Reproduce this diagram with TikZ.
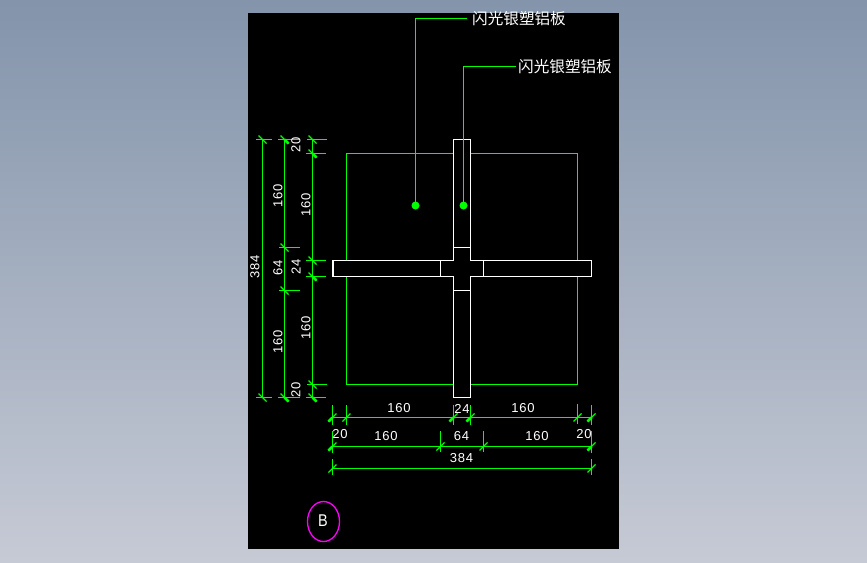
\documentclass[tikz,border=0pt]{standalone}
\usepackage{fontspec}
\setmainfont[LetterSpace=6]{Liberation Sans}
\newfontfamily\cjkfont{Noto Sans CJK SC}
\newfontfamily\detailfont[LetterSpace=10]{Liberation Sans}
\definecolor{cadgreen}{RGB}{0,255,0}
\definecolor{cadmag}{RGB}{255,0,255}
\definecolor{bgtop}{RGB}{131,148,171}
\definecolor{bgbot}{RGB}{198,202,213}
\tikzset{
  dimline/.style={cadgreen,line width=1.25pt},
  outline/.style={white,line width=1.35pt},
  dimtext/.style={white,inner sep=0pt,font=\fontsize{13}{13}\selectfont},
  dimtextv/.style={dimtext,rotate=90},
  cjktext/.style={white,inner sep=0pt,anchor=west,font=\fontsize{15.6}{16}\selectfont\cjkfont},
}
\newcommand{\vtick}[4]{\draw[dimline] (#3,#2) -- (#4,#2);
  \draw[dimline] (#1-4,#2-4) -- (#1+4,#2+4);}
\newcommand{\vheavy}[2]{\draw[cadgreen,line width=2.6pt] (#1,#2) -- (#1+4,#2+4);}
\newcommand{\htick}[4]{\draw[dimline] (#1,#3) -- (#1,#4);
  \draw[dimline] (#1-4,#2+4) -- (#1+4,#2-4);}
\newcommand{\hheavy}[2]{\draw[cadgreen,line width=2.6pt] (#1-4,#2+4) -- (#1,#2);}
\begin{document}
\begin{tikzpicture}[x=1pt,y=-1pt]
\useasboundingbox (0,0) rectangle (867,562);
\shade[top color=bgtop,bottom color=bgbot] (0,0) rectangle (867,562);
\fill[black] (248,13) rectangle (619,549);
% panel
\draw[dimline] (346.5,153.5) rectangle (577.5,384.5);
\fill[black] (333,260.5) rectangle (591.5,276.5);
\fill[black] (453.5,139.5) rectangle (470.5,397.5);
\draw[outline] (453.5,139.5) -- (470.5,139.5) -- (470.5,260.5) -- (591.5,260.5) -- (591.5,276.5)
  -- (470.5,276.5) -- (470.5,397.5) -- (453.5,397.5) -- (453.5,276.5) -- (333,276.5)
  -- (333,260.5) -- (453.5,260.5) -- cycle;
\draw[outline] (453.5,247.5) -- (470.5,247.5);
\draw[outline] (453.5,290.5) -- (470.5,290.5);
\draw[outline] (440.5,260.5) -- (440.5,276.5);
\draw[outline] (483.5,260.5) -- (483.5,276.5);
% vertical dims
\draw[dimline] (262.5,139.5) -- (262.5,397.5);
\vtick{262.5}{139.5}{256}{272}
\vtick{262.5}{397.5}{256}{272}
\draw[dimline] (284.5,139.5) -- (284.5,397.5);
\vtick{284.5}{139.5}{278}{300}\vheavy{284.5}{139.5}
\vtick{284.5}{247.5}{279}{300}
\vtick{284.5}{290.5}{279}{300}
\vtick{284.5}{397.5}{278}{300}\vheavy{284.5}{397.5}
\draw[dimline] (312.5,139.5) -- (312.5,397.5);
\vtick{312.5}{139.5}{307}{327}
\vtick{312.5}{153.5}{306}{326}\vheavy{312.5}{153.5}
\vtick{312.5}{260.5}{306}{326}
\vtick{312.5}{276.5}{306}{326}\vheavy{312.5}{276.5}
\vtick{312.5}{384.5}{307}{327}
\vtick{312.5}{397.5}{306}{326}\vheavy{312.5}{397.5}
% horizontal dims
\draw[dimline] (332.5,417.5) -- (591.5,417.5);
\htick{332.5}{417.5}{405}{425}\hheavy{332.5}{417.5}
\htick{346.5}{417.5}{405}{425}
\htick{453.5}{417.5}{405}{425}\hheavy{453.5}{417.5}
\htick{470.5}{417.5}{405}{425}\hheavy{470.5}{417.5}
\htick{577.5}{417.5}{404}{424}
\htick{591.5}{417.5}{405}{425}\hheavy{591.5}{417.5}
\draw[dimline] (332.5,446.5) -- (591.5,446.5);
\htick{332.5}{446.5}{431}{453}\hheavy{332.5}{446.5}
\htick{440.5}{446.5}{431}{452}
\htick{483.5}{446.5}{431}{452}
\htick{591.5}{446.5}{431}{453}\hheavy{591.5}{446.5}
\draw[dimline] (332.5,468.5) -- (591.5,468.5);
\htick{332.5}{468.5}{459}{475}
\htick{591.5}{468.5}{459}{475}
% dim labels
\node[dimtextv] (v384) at (255,267) {384};
\node[dimtextv] (v160a) at (278,196) {160};
\node[dimtextv] (v64) at (278,268) {64};
\node[dimtextv] (v160b) at (278,342) {160};
\node[dimtextv] (v20a) at (296,145) {20};
\node[dimtextv] (v24) at (296,267) {24};
\node[dimtextv] (v20b) at (296,390) {20};
\node[dimtextv] (v160c) at (306,205) {160};
\node[dimtextv] (v160d) at (306,328) {160};
\node[dimtext] (h160a) at (399,408) {160};
\node[dimtext] (h24) at (462,408.5) {24};
\node[dimtext] (h160b) at (523,408.5) {160};
\node[dimtext] (h20a) at (340,434) {20};
\node[dimtext] (h160c) at (386,436.5) {160};
\node[dimtext] (h64) at (461.5,436.5) {64};
\node[dimtext] (h160d) at (537,436.5) {160};
\node[dimtext] (h20b) at (584,434) {20};
\node[dimtext] (h384) at (461.5,458.5) {384};
% leaders
\node[circle,fill=cadgreen,inner sep=0pt,minimum size=8pt] (d1) at (415.5,205.5) {};
\node[circle,fill=cadgreen,inner sep=0pt,minimum size=8pt] (d2) at (463.5,205.5) {};
\node[cjktext] (t1) at (472,18.5) {闪光银塑铝板};
\node[cjktext] (t2) at (518,66.5) {闪光银塑铝板};
\coordinate (e1) at (467,18.5);
\coordinate (e2) at (515.6,66.5);
\draw[dimline] (d1.center) -- (d1.center |- e1) -- (e1);
\draw[dimline] (d2.center) -- (d2.center |- e2) -- (e2);
% title
\node[circle,draw=cadmag,line width=1.3pt,minimum size=40pt,inner sep=0pt,text=white,xscale=0.8,yscale=1,font=\fontsize{17}{17}\selectfont] (bb) at (323.5,521.5) {\phantom{B}};
\node[inner sep=0pt,text=white,xscale=0.85,font=\fontsize{17}{17}\selectfont] (blabel) at (323,521) {B};
\end{tikzpicture}
\end{document}
